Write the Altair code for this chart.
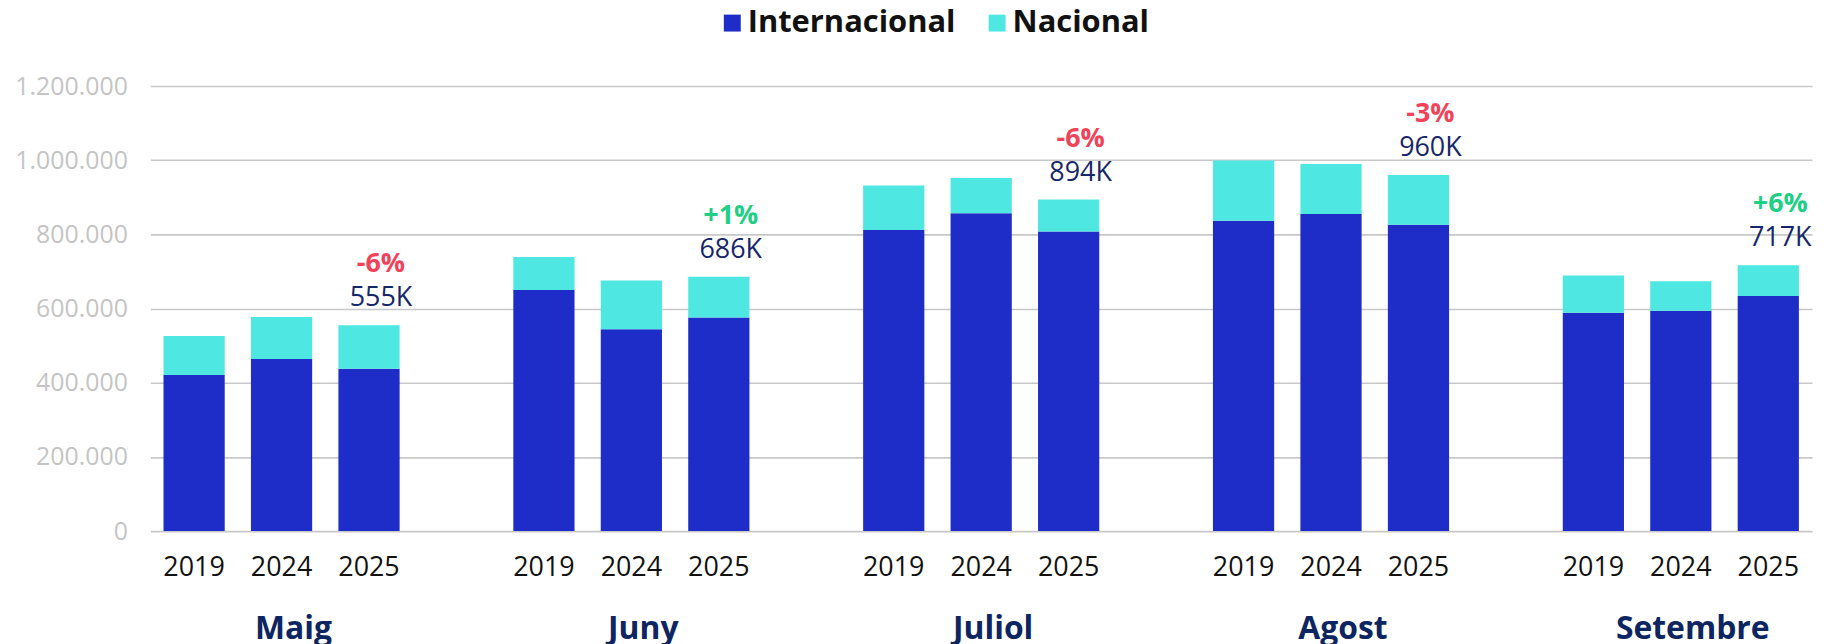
import altair as alt
import pandas as pd

months = ["Maig", "Juny", "Juliol", "Agost", "Setembre"]
years = ["2019", "2024", "2025"]
series = ["Internacional", "Nacional"]

internacional = [
    [421000, 464000, 438000],
    [650000, 544000, 576000],
    [812000, 857000, 808000],
    [837000, 855000, 826000],
    [589000, 594000, 634000],
]
nacional = [
    [105000, 113000, 117000],
    [89000, 132000, 110000],
    [120000, 95000, 86000],
    [162000, 135000, 134000],
    [100000, 80000, 83000],
]
total_labels = ["555K", "686K", "894K", "960K", "717K"]
pct_labels = ["-6%", "+1%", "-6%", "-3%", "+6%"]
pct_up = [0, 1, 0, 0, 1]
y_ticks = [0, 200000, 400000, 600000, 800000, 1000000, 1200000]

# slot domain with gaps between months
slots = []
for i, m in enumerate(months):
    for y in years:
        slots.append(f"{m}|{y}")
    if i < len(months) - 1:
        slots.append(f"gap{i}")

rows = []
for i, m in enumerate(months):
    for j, y in enumerate(years):
        rows.append({"slot": f"{m}|{y}", "serie": "Internacional", "ord": 0, "value": internacional[i][j]})
        rows.append({"slot": f"{m}|{y}", "serie": "Nacional", "ord": 1, "value": nacional[i][j]})
df = pd.DataFrame(rows)

lab_rows = []
for i, m in enumerate(months):
    lab_rows.append({
        "slot": f"{m}|2025",
        "total": internacional[i][2] + nacional[i][2],
        "lab": total_labels[i],
        "pct": pct_labels[i],
        "up": pct_up[i],
    })
df_lab = pd.DataFrame(lab_rows)

df_month = pd.DataFrame({"slot": [f"{m}|2024" for m in months], "month": months})

FONT = "Open Sans"
W, H = 1669, 447

x_enc = alt.X(
    "slot:N",
    scale=alt.Scale(domain=slots, paddingInner=0.3, paddingOuter=0.15),
    axis=alt.Axis(
        title=None,
        labelExpr="indexof(datum.value, '|') > 0 ? split(datum.value, '|')[1] : ''",
        labelAngle=0,
        ticks=False,
        tickSize=0,
        domain=False,
        grid=False,
        labelFont=FONT,
        labelFontSize=27,
        labelColor="#111111",
        labelPadding=24,
    ),
)

bars = alt.Chart(df).mark_bar().encode(
    x=x_enc,
    y=alt.Y(
        "value:Q",
        stack="zero",
        scale=alt.Scale(domain=[0, 1200000], nice=False),
        axis=alt.Axis(
            title=None,
            values=y_ticks,
            labelExpr="replace(replace(format(datum.value, ','), ',', '.'), ',', '.')",
            ticks=False,
            tickSize=0,
            domain=False,
            grid=True,
            gridColor="#c8c8c8",
            gridWidth=1.6,
            labelFont=FONT,
            labelFontSize=25,
            labelColor="#c4c4c4",
            labelPadding=23,
        ),
    ),
    color=alt.Color(
        "serie:N",
        scale=alt.Scale(domain=series, range=["#1e2dc8", "#4fe7e2"]),
        legend=alt.Legend(
            title=None,
            orient="none",
            legendX=569,
            legendY=-79,
            direction="horizontal",
            symbolType="square",
            symbolSize=289,
            symbolStrokeWidth=0,
            labelFont=FONT,
            labelFontSize=31,
            labelFontWeight="bold",
            labelColor="#111111",
            labelOffset=0,
            labelLimit=600,
            columnPadding=26,
            padding=0,
        ),
    ),
    order=alt.Order("ord:Q", sort="ascending"),
)

totals = alt.Chart(df_lab).mark_text(
    font=FONT, fontSize=27, color="#16266b", baseline="middle", dy=-27, dx=12
).encode(x="slot:N", y="total:Q", text="lab:N")

pcts = alt.Chart(df_lab).mark_text(
    font=FONT, fontSize=27, fontWeight="bold", baseline="middle", dy=-61, dx=12
).encode(
    x="slot:N",
    y="total:Q",
    text="pct:N",
    color=alt.condition(alt.datum.up == 1, alt.value("#1fcf86"), alt.value("#f0435a")),
)

month_text = alt.Chart(df_month).mark_text(
    font=FONT, fontSize=32, fontWeight="bold", color="#0d2560", baseline="alphabetic", dx=12
).encode(x="slot:N", y=alt.value(555), text="month:N")

chart = alt.layer(bars, totals, pcts, month_text).properties(
    width=W,
    height=H,
    autosize=alt.AutoSizeParams(type="none"),
    padding={"left": 143, "top": 77, "right": 4, "bottom": 112},
    background="white",
).configure_view(stroke=None)

chart.save("out.html", embed_options={"renderer": "svg", "actions": False})
